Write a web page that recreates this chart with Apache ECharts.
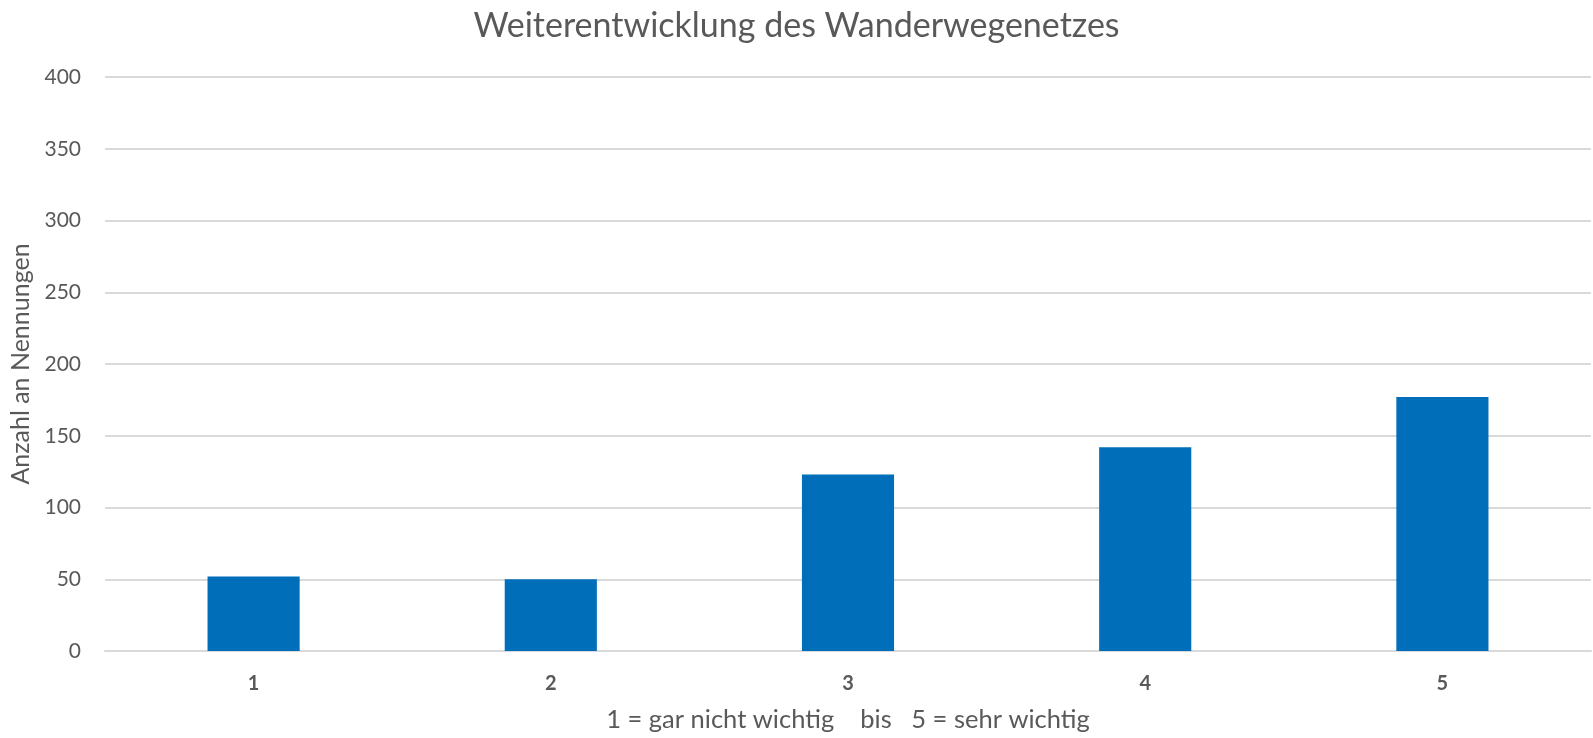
<!DOCTYPE html>
<html lang="de">
<head>
    <meta charset="UTF-8">
    <title>Weiterentwicklung des Wanderwegenetzes</title>
    <script src="https://cdn.jsdelivr.net/npm/echarts@6/dist/echarts.min.js"></script>
    <style>
        html, body { margin: 0; padding: 0; background: #fff; }
        #main { width: 1593px; height: 738px; }
    </style>
</head>
<body>
    <div id="main"></div>
    <script>
        // Daten
        const categories = ['1', '2', '3', '4', '5'];
        const counts = [52, 50, 123, 142, 177];
        const yTicks = [0, 50, 100, 150, 200, 250, 300, 350, 400];

        const textColor = '#595959';
        const fontFamily = 'Lato, "Open Sans", sans-serif';

        const chart = echarts.init(document.getElementById('main'));

        const option = {
            animation: false,
            title: {
                text: 'Weiterentwicklung des Wanderwegenetzes',
                left: 'center',
                top: 4,
                textStyle: {
                    color: textColor,
                    fontFamily: fontFamily,
                    fontSize: 34,
                    fontWeight: 'normal'
                }
            },
            grid: {
                left: 105,
                right: 2,
                top: 77,
                bottom: 86
            },
            xAxis: {
                type: 'category',
                data: categories,
                name: '1 = gar nicht wichtig    bis   5 = sehr wichtig',
                nameLocation: 'middle',
                nameGap: 56,
                nameTextStyle: {
                    color: textColor,
                    fontFamily: fontFamily,
                    fontSize: 25.5
                },
                axisLine: { lineStyle: { color: '#D9D9D9', width: 2 } },
                axisTick: { show: false },
                axisLabel: {
                    color: textColor,
                    fontFamily: fontFamily,
                    fontSize: 20,
                    fontWeight: 'bold',
                    margin: 23
                }
            },
            yAxis: {
                type: 'value',
                min: yTicks[0],
                max: yTicks[yTicks.length - 1],
                interval: 50,
                name: 'Anzahl an Nennungen',
                nameLocation: 'middle',
                nameGap: 70,
                nameTextStyle: {
                    color: textColor,
                    fontFamily: fontFamily,
                    fontSize: 25
                },
                axisLine: { show: false },
                axisTick: { show: false },
                axisLabel: {
                    color: textColor,
                    fontFamily: fontFamily,
                    fontSize: 21,
                    margin: 24
                },
                splitLine: { lineStyle: { color: '#D9D9D9', width: 2 } }
            },
            series: [{
                name: 'Anzahl an Nennungen',
                type: 'bar',
                data: counts,
                barWidth: '31%',
                itemStyle: { color: '#006EB8' }
            }]
        };

        chart.setOption(option);
    </script>
</body>
</html>
